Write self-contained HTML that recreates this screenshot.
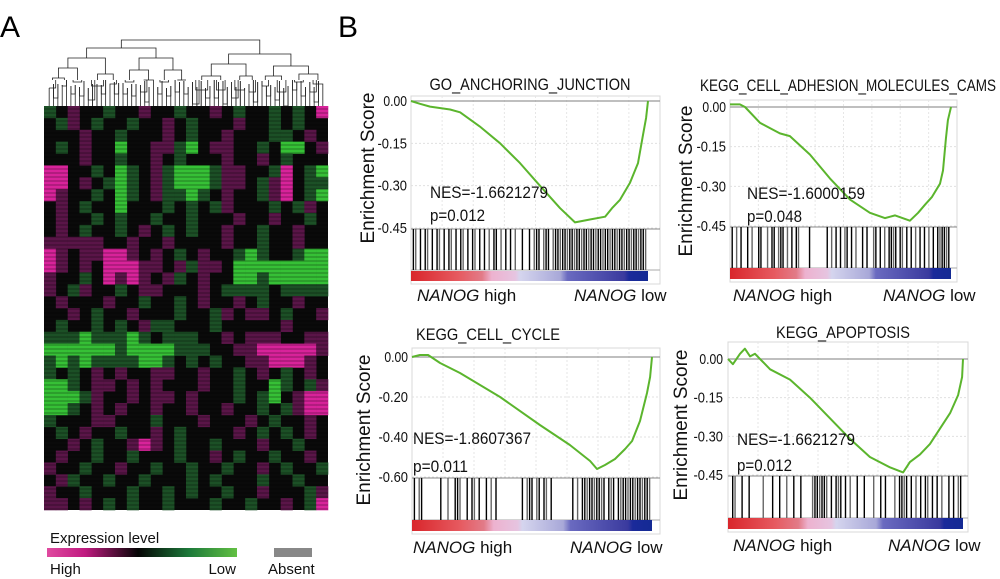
<!DOCTYPE html>
<html><head><meta charset="utf-8"><style>
html,body{margin:0;padding:0;background:#fff;}
svg{display:block;font-family:"Liberation Sans",sans-serif;}
</style></head><body>
<svg id="fig" width="1000" height="579" viewBox="0 0 1000 579" xmlns="http://www.w3.org/2000/svg">
<text x="0" y="37" font-size="30">A</text>
<text x="338" y="37" font-size="30">B</text>
<g id="dendro"></g>
<g id="heat"></g>
<g>
<defs>
<linearGradient id="exg" x1="0" x2="1" y1="0" y2="0">
<stop offset="0" stop-color="#e04aa0"/><stop offset="0.2" stop-color="#c01a80"/><stop offset="0.48" stop-color="#050505"/><stop offset="0.75" stop-color="#1d7a3a"/><stop offset="1" stop-color="#62c043"/>
</linearGradient>
<linearGradient id="gsea" x1="0" x2="1" y1="0" y2="0">
<stop offset="0" stop-color="#d9262b"/><stop offset="0.2" stop-color="#e65a60"/><stop offset="0.3" stop-color="#e27b88"/><stop offset="0.34" stop-color="#edb2cf"/><stop offset="0.44" stop-color="#e6c4e0"/><stop offset="0.46" stop-color="#d5d5ee"/><stop offset="0.63" stop-color="#a8a8d8"/><stop offset="0.66" stop-color="#6a6ac0"/><stop offset="0.9" stop-color="#3a3a9e"/><stop offset="0.92" stop-color="#1a2a9a"/><stop offset="1" stop-color="#142a94"/>
</linearGradient>
</defs>
<text x="50" y="543" font-size="15" fill="#111">Expression level</text>
<rect x="47" y="548" width="190" height="9" fill="url(#exg)"/>
<text x="50" y="574" font-size="15" fill="#111">High</text>
<text x="236" y="574" font-size="15" fill="#111" text-anchor="end">Low</text>
<rect x="274" y="548" width="38" height="9" fill="#888"/>
<text x="268" y="574" font-size="15" fill="#111">Absent</text>
</g>
<g id="panels"></g>
</svg>
<script>
// ===== Heatmap data (M strong magenta, m weak magenta, . black, g weak green, G strong green)
const heatRows = [
"g.m..g..m..g..m.g..g.g.M",
".gm.g..g..m.g...m..g.g..",
"...m..g...m.g..m...gg.m.",
".g.m..G..mmgG.mm..g.GG.m",
"...m..g..m.g...m..m.g...",
"MM..g.Gg.mgGGGgmm..gM.gG",
"MM.m.gGg.mgGGGgmm.gmM.gg",
"Mm..g.Gg.mggGg.m..gmM.gG",
".m.g..G...g.g.gm...g.gm.",
".m..g.g..g..g...m..m..g.",
".m.g..g.m.g.g..m..g..m..",
"mmmmm..m..m....m..g..m..",
"Mm.mmMMm.m.g.m..gGg..gGG",
"Mm.m.MMMmm.mgmm.GGGGGGGG",
"m..g.MmMm.mg.m..GGgGGGGG",
"m.gm..g.mm...m.gggg.gggg",
".m...m..g..g.m..m.g..m..",
"..m.g..m...g..gm.mm.g..m",
".g..g.g.mgg...g.....m...",
"gggGgggGg.ggg..m.mmm..mm",
"GGGGGGgGGGGggg..mmMMMMMm",
"gGgGggggGGg.g.g..mmMMMm.",
"g.g.m.m..mm..m..g.m.g.m.",
"GGg.mm.m.m...m..g..Gg.gm",
"GGGgm..m.mm.m...g.gG.mMM",
"GGg.m.m..m..m..m..g.gmMM",
"g...mm...g...m...m.g..m.",
".g.m..g..m.g....m.g.g.m.",
"..m.g..mMm.g..g...m..g..",
".m..g..g...g..m.g..g..m.",
"m..g..m..g..g..g..m.g..g",
".mg..g..g...g.g...g..g..",
"m..g...g..g.g..g..m...gm",
"mm.m.g.g..g...g..g..m.gM"
];
const heatColors = {"M":"#d8239a","m":"#5a1548","." :"#0a0a0a","g":"#1c5026","G":"#36c036"};

// ===== GSEA panel data
const titles = ["GO_ANCHORING_JUNCTION","KEGG_CELL_ADHESION_MOLECULES_CAMS","KEGG_CELL_CYCLE","KEGG_APOPTOSIS"];
const nesLabels = ["NES=-1.6621279","NES=-1.6000159","NES=-1.8607367","NES=-1.6621279"];
const pLabels = ["p=0.012","p=0.048","p=0.011","p=0.012"];
const tickLabels1 = ["0.00","-0.15","-0.30","-0.45"];
const tickValues1 = [0,-0.15,-0.30,-0.45];
const tickLabels3 = ["0.00","-0.20","-0.40","-0.60"];
const tickValues3 = [0,-0.20,-0.40,-0.60];
const ranks1 = [0,3.8,8,16.5,20.7,29,37.6,46,54.4,62.9,69.2,75.5,81.9,84.8,88.2,92.4,95.8,97.9,99.2,100];
const es1 = [0,-0.01,-0.02,-0.03,-0.04,-0.09,-0.15,-0.22,-0.30,-0.38,-0.43,-0.42,-0.41,-0.38,-0.35,-0.29,-0.22,-0.12,-0.06,0];
const ranks2 = [0,4.5,6.8,13.6,22.6,27.1,36.2,45.2,54.3,63.3,70.1,74.7,81.4,85.1,88.2,91.4,95,96.4,97.7,98.6,100];
const es2 = [0.01,0.01,0,-0.06,-0.10,-0.11,-0.18,-0.27,-0.35,-0.40,-0.42,-0.41,-0.43,-0.40,-0.37,-0.34,-0.29,-0.24,-0.12,-0.05,0];
const ranks3 = [0,3.3,6.7,11.7,20,36.7,53.3,65.8,74.2,77.1,80.4,84.6,88.8,91.7,95,97.9,99.2,100];
const es3 = [0,0.01,0.01,-0.03,-0.08,-0.20,-0.34,-0.44,-0.52,-0.56,-0.54,-0.51,-0.46,-0.42,-0.32,-0.18,-0.10,0];
const ranks4 = [0,2.1,5.1,7.2,9.4,11.5,17.9,26.4,34.9,43.4,51.9,60.4,68.9,74.5,77.4,81.7,85.9,90.2,94.5,97.9,99.6,100];
const es4 = [0,-0.02,0.02,0.04,0.01,0.02,-0.04,-0.08,-0.15,-0.23,-0.31,-0.38,-0.42,-0.44,-0.40,-0.37,-0.33,-0.27,-0.21,-0.14,-0.07,0];
const hits1 = [1,2,4,6,7,9,11,12,14,16,17,19,21,22,24,26,27,29,31,33,35,36,38,40,42,44,47,50,52,53,54,56,57,58,60,61,62,63,64,65,66,67,68,69,70,71,72,73,74,75,76,77,78,79,80,81,82,83,84,85,86,87,88,89,90,91,92,93,94,95,96,97,98,99];
const hits2 = [1,3,5,8,10,13,14,17,19,20,22,23,24,26,28,30,31,36,44,46,48,50,52,53,55,57,60,62,65,66,68,70,72,73,74,75,77,78,80,82,84,86,88,90,92,94,95,96,97,98,99];
const hits3 = [1,3,4,12,15,18,19,20,23,25,26,28,31,33,35,46,48,49,50,52,53,55,56,58,67,69,71,72,73,74,75,76,77,78,79,80,82,83,84,86,87,88,89,90,91,92,93,94,95,96,97,98,99];
const hits4 = [2,3,6,9,15,19,22,25,28,31,36,37,38,39,40,41,42,44,46,47,48,50,52,55,58,62,65,67,71,73,74,75,76,78,80,82,84,85,87,89,91,94,96,98,99];

const NS="http://www.w3.org/2000/svg";
function mk(tag, attrs, parent){const e=document.createElementNS(NS,tag);for(const k in attrs)e.setAttribute(k,attrs[k]);parent.appendChild(e);return e;}

// Heatmap
const heat=document.getElementById('heat');
const hx=44,hy=106,hw=284,hh=404;
const nr=heatRows.length, nc=heatRows[0].length;
const cw=hw/nc, ch=hh/nr;
mk('rect',{x:hx,y:hy,width:hw,height:hh,fill:'#0a0a0a'},heat);
heatRows.forEach((row,r)=>{
  for(let c=0;c<nc;c++){
    const ch2=row[c]; if(ch2==='.') continue;
    const cell=mk('rect',{x:(hx+c*cw).toFixed(2),y:(hy+r*ch).toFixed(2),width:(cw+0.3).toFixed(2),height:(ch+0.3).toFixed(2),fill:heatColors[ch2]},heat);
    
    
  }
});
for(let y=hy+3;y<hy+hh;y+=4){
  mk('line',{x1:hx,y1:y,x2:hx+hw,y2:y,stroke:'#000','stroke-opacity':0.35,'stroke-width':1},heat);
}

// Dendrogram (decorative tree)
const dend=document.getElementById('dendro');
const nLeaves=64;
function tree(a,b,h){
  if(b-a<=1){return hx+3+(a+0.5)*(hw-6)/nLeaves;}
  const m=Math.floor((a+b)/2)+((a*7+b*3)%3===0&&b-a>3?1:0);
  const hl=h-8-((a*5+b)%4)*2, hr=h-8-((a*3+b*7)%5)*2;
  const xl=tree(a,m,hl), xr=tree(m,b,hr);
  const y=hy-h;
  const yL = (m-a<=1)? hy-18-((a*13)%9) : hy-Math.max(26,hl);
  const yR = (b-m<=1)? hy-18-((m*11)%9) : hy-Math.max(26,hr);
  mk('path',{d:`M${xl} ${yL}V${y}H${xr}V${yR}`,stroke:'#222',fill:'none','stroke-width':0.8},dend);
  if(m-a<=1) mk('line',{x1:xl,y1:yL,x2:xl,y2:hy,stroke:'#222','stroke-width':0.8},dend);
  if(b-m<=1) mk('line',{x1:xr,y1:yR,x2:xr,y2:hy,stroke:'#222','stroke-width':0.8},dend);
  return (xl+xr)/2;
}
tree(0,nLeaves,66);

// GSEA panels
const panels=document.getElementById('panels');
const titleW=[201,296,144,134];
const cfg=[
 {L:411,R:660,E:648,y0:101,yMinPx:228,vMin:-0.45,top:96,bcT:229,bcB:270,cT:271,cB:281,tx:530,ty:90,tickX:407,yl:374,ylc:168,nx:430,ny:198,py:221,hx:417,lx:574,by:301,ticks:tickValues1,tl:tickLabels1,r:ranks1,e:es1,h:hits1},
 {L:730,R:957,E:951,y0:107,yMinPx:226,vMin:-0.45,top:100,bcT:227,bcB:268,cT:268,cB:279,tx:848,ty:91,tickX:726,yl:692,ylc:181,nx:747,ny:199,py:222,hx:733,lx:883,by:301,ticks:tickValues1,tl:tickLabels1,r:ranks2,e:es2,h:hits2},
 {L:412,R:660,E:652,y0:357,yMinPx:477,vMin:-0.60,top:348,bcT:478,bcB:520,cT:520,cB:531,tx:488,ty:340,tickX:408,yl:370,ylc:430,nx:413,ny:444,py:472,hx:413,lx:570,by:553,ticks:tickValues3,tl:tickLabels3,r:ranks3,e:es3,h:hits3},
 {L:728,R:968,E:963,y0:359,yMinPx:475,vMin:-0.45,top:342,bcT:476,bcB:518,cT:518,cB:529,tx:843,ty:338,tickX:723,yl:687,ylc:425,nx:737,ny:445,py:471,hx:733,lx:888,by:551,ticks:tickValues1,tl:tickLabels1,r:ranks4,e:es4,h:hits4}
];
cfg.forEach((c,i)=>{
  const g=mk('g',{},panels);
  
  
  const xs=r=>c.L+(c.E-c.L)*r/100;
  const ys=v=>c.y0+(c.yMinPx-c.y0)*(v/c.vMin);
  mk('rect',{x:c.L,y:c.top,width:c.R-c.L,height:c.cB+3-c.top,fill:'none',stroke:'#d8d8d8','stroke-width':1},g);
  for(let k=1;k<8;k++){mk('line',{x1:c.L+(c.R-c.L)*k/8,y1:c.top,x2:c.L+(c.R-c.L)*k/8,y2:c.yMinPx,stroke:'#e6e6e6','stroke-dasharray':'2,2'},g);}
  c.ticks.forEach((v,k)=>{
    const y=ys(v);
    mk('line',{x1:c.L,y1:y,x2:c.R,y2:y,stroke:k===0?'#999':'#e0e0e0','stroke-width':k===0?1.2:1,'stroke-dasharray':k===0?'':'2,2'},g);
    const lab=c.tl[k];
    const t=mk('text',{x:c.tickX,y:y+5,'font-size':15,'text-anchor':'end',fill:'#111',textLength:lab.length*5.9,lengthAdjust:'spacingAndGlyphs'},g);
    t.textContent=lab;
    
    
  });
  mk('line',{x1:c.L,y1:c.yMinPx+1,x2:c.R,y2:c.yMinPx+1,stroke:'#888'},g);
  mk('line',{x1:c.L,y1:c.bcB,x2:c.R,y2:c.bcB,stroke:'#aaa'},g);
  c.h.forEach((r,k)=>{
    const x=xs(r);
    const b=mk('line',{x1:x,y1:c.bcT,x2:x,y2:c.bcB,stroke:k%3===1?'#666':'#000','stroke-width':1.4},g);
    
    
  });
  const cb=mk('rect',{x:c.L,y:c.cT,width:c.E-c.L,height:c.cB-c.cT,fill:'url(#gsea)'},g);
  
  
  const d=c.r.map((r,k)=>(k?'L':'M')+xs(r).toFixed(1)+' '+ys(c.e[k]).toFixed(1)).join('');
  const p=mk('path',{d:d,fill:'none',stroke:'#5bb52d','stroke-width':2,'stroke-linejoin':'round'},g);
  
  
  const tt=mk('text',{x:c.tx,y:c.ty,'font-size':17,'text-anchor':'middle',fill:'#111',textLength:titleW[i],lengthAdjust:'spacingAndGlyphs'},g);
  tt.textContent=titles[i];
  
  
  const yl=mk('text',{x:c.yl,y:c.ylc,'font-size':19,'text-anchor':'middle',fill:'#111',transform:`rotate(-90 ${c.yl} ${c.ylc})`},g);
  yl.textContent='Enrichment Score';
  
  
  const n=mk('text',{x:c.nx,y:c.ny,'font-size':17,fill:'#111',textLength:118,lengthAdjust:'spacingAndGlyphs'},g);
  n.textContent=nesLabels[i];
  
  
  const pv=mk('text',{x:c.nx,y:c.py,'font-size':17,fill:'#111',textLength:55,lengthAdjust:'spacingAndGlyphs'},g);
  pv.textContent=pLabels[i];
  
  
  [[c.hx,' high','nanog-high-label'],[c.lx,' low','nanog-low-label']].forEach(([x,s,nm])=>{
    const t=mk('text',{x:x,y:c.by,'font-size':17,fill:'#111'},g);
    const it=mk('tspan',{'font-style':'italic'},t); it.textContent='NANOG';
    const sp=mk('tspan',{},t); sp.textContent=s;
    
    
  });
});
</script>
</body></html>
